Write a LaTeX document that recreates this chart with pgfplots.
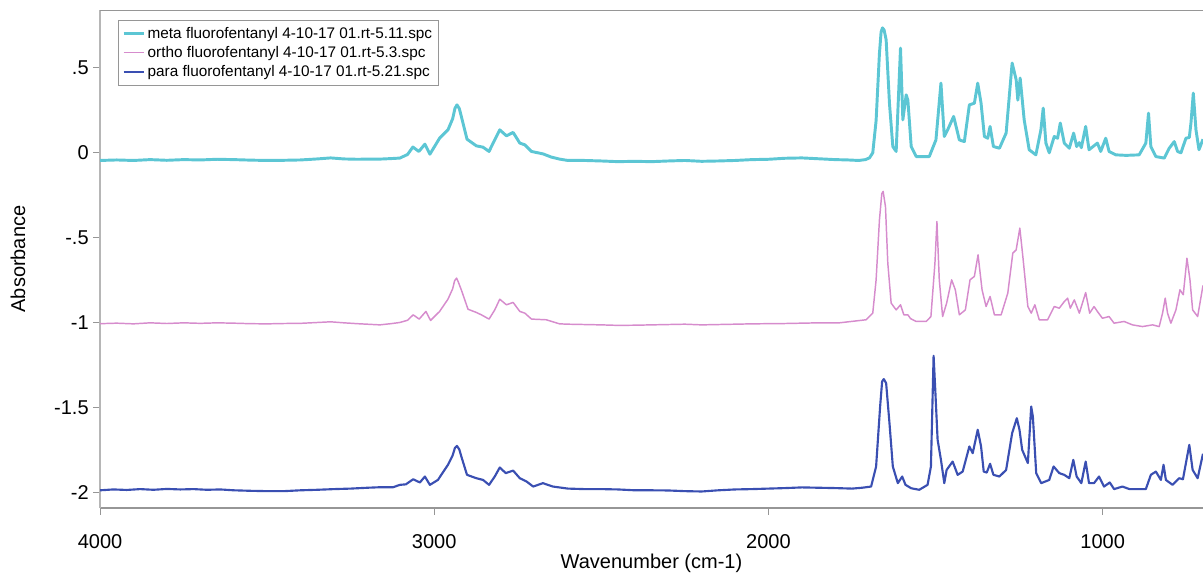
\documentclass[border=0pt]{standalone}
\usepackage{fontspec}
\setmainfont{Liberation Sans}
\usepackage{pgfplots}
\pgfplotsset{compat=1.18}
\usepackage{pgfplotstable}

\definecolor{metacol}{RGB}{92,198,212}
\definecolor{orthocol}{RGB}{214,140,205}
\definecolor{paracol}{RGB}{58,79,178}
\definecolor{framecol}{RGB}{150,150,150}

% wavenumber (cm-1) / absorbance
\pgfplotstableread{
w v
4000 -0.045
3950 -0.042
3900 -0.045
3850 -0.040
3800 -0.044
3750 -0.040
3700 -0.042
3650 -0.038
3600 -0.040
3550 -0.043
3500 -0.045
3450 -0.044
3400 -0.042
3350 -0.036
3310 -0.030
3270 -0.036
3230 -0.038
3200 -0.037
3163 -0.037
3130 -0.034
3103 -0.031
3080 -0.010
3064 0.034
3046 0.008
3028 0.051
3013 -0.008
2984 0.086
2959 0.135
2945 0.200
2938 0.262
2932 0.282
2925 0.260
2919 0.214
2902 0.080
2874 0.041
2854 0.033
2836 0.008
2824 0.057
2804 0.135
2784 0.100
2764 0.120
2744 0.057
2729 0.047
2709 0.008
2690 0.000
2675 -0.006
2650 -0.025
2625 -0.037
2600 -0.045
2550 -0.045
2500 -0.048
2450 -0.052
2400 -0.050
2350 -0.052
2300 -0.048
2250 -0.045
2200 -0.050
2150 -0.048
2100 -0.045
2050 -0.040
2000 -0.038
1950 -0.032
1900 -0.030
1880 -0.032
1850 -0.035
1800 -0.040
1762 -0.042
1730 -0.045
1710 -0.040
1698 -0.030
1688 0.000
1678 0.190
1668 0.586
1663 0.712
1659 0.735
1654 0.722
1648 0.665
1638 0.290
1628 0.037
1618 0.008
1605 0.616
1598 0.194
1588 0.341
1583 0.310
1573 0.037
1558 -0.022
1519 -0.022
1499 0.076
1484 0.410
1474 0.096
1464 0.135
1446 0.214
1429 0.076
1414 0.066
1399 0.282
1384 0.292
1374 0.410
1364 0.292
1354 0.096
1344 0.086
1337 0.155
1327 0.037
1309 0.027
1289 0.116
1271 0.528
1259 0.430
1254 0.310
1247 0.440
1235 0.194
1220 0.018
1200 -0.012
1185 0.135
1178 0.263
1170 0.057
1160 0.000
1145 0.096
1135 0.086
1127 0.175
1115 0.057
1100 0.027
1087 0.116
1078 0.037
1070 0.060
1064 0.030
1051 0.155
1041 0.018
1016 0.057
1006 0.008
991 0.086
981 0.008
961 -0.012
930 -0.015
891 -0.012
871 0.057
863 0.233
856 0.037
841 -0.022
816 -0.031
801 0.027
786 0.066
776 0.008
766 0.000
751 0.086
741 0.090
736 0.175
729 0.351
721 0.135
712 0.018
700 0.080
}\meta

\pgfplotstableread{
w v
4000 -1.005
3950 -1.002
3900 -1.006
3850 -1.000
3800 -1.004
3750 -1.000
3700 -1.003
3650 -1.000
3600 -1.002
3550 -1.005
3500 -1.006
3450 -1.004
3400 -1.003
3350 -0.998
3310 -0.994
3270 -1.000
3230 -1.005
3163 -1.012
3130 -1.005
3103 -0.998
3080 -0.985
3063 -0.953
3045 -0.978
3025 -0.933
3011 -0.986
2984 -0.933
2959 -0.861
2945 -0.800
2939 -0.752
2933 -0.737
2928 -0.760
2919 -0.806
2899 -0.920
2874 -0.939
2859 -0.953
2836 -0.978
2819 -0.924
2804 -0.861
2784 -0.894
2764 -0.880
2744 -0.933
2729 -0.943
2709 -0.978
2665 -0.982
2625 -1.006
2600 -1.008
2550 -1.010
2500 -1.012
2450 -1.015
2400 -1.014
2350 -1.012
2300 -1.010
2250 -1.008
2200 -1.012
2150 -1.010
2100 -1.008
2050 -1.006
2000 -1.005
1950 -1.004
1900 -1.002
1850 -1.000
1788 -1.000
1708 -0.982
1688 -0.943
1678 -0.747
1668 -0.394
1661 -0.240
1657 -0.227
1650 -0.316
1643 -0.649
1633 -0.884
1618 -0.924
1605 -0.894
1595 -0.953
1583 -0.953
1575 -0.975
1558 -0.992
1528 -0.992
1514 -0.963
1502 -0.649
1496 -0.404
1489 -0.747
1479 -0.963
1467 -0.884
1452 -0.747
1441 -0.806
1429 -0.953
1411 -0.924
1397 -0.747
1384 -0.727
1373 -0.600
1361 -0.806
1349 -0.904
1337 -0.845
1324 -0.953
1304 -0.953
1284 -0.825
1269 -0.590
1259 -0.571
1248 -0.443
1239 -0.610
1224 -0.904
1214 -0.943
1203 -0.894
1190 -0.982
1165 -0.982
1145 -0.904
1130 -0.914
1115 -0.875
1105 -0.855
1097 -0.914
1085 -0.865
1070 -0.943
1051 -0.822
1039 -0.943
1026 -0.904
1016 -0.933
1001 -0.973
981 -0.963
966 -1.002
936 -0.992
911 -1.012
881 -1.022
851 -1.012
831 -1.022
821 -0.943
813 -0.855
806 -0.943
796 -1.002
781 -0.924
769 -0.806
759 -0.835
748 -0.620
739 -0.747
731 -0.924
716 -0.963
700 -0.780
}\ortho

\pgfplotstableread{
w v
4000 -1.985
3960 -1.980
3920 -1.983
3880 -1.978
3840 -1.982
3800 -1.977
3760 -1.980
3720 -1.978
3680 -1.982
3640 -1.980
3600 -1.985
3550 -1.988
3500 -1.990
3450 -1.990
3400 -1.985
3350 -1.982
3300 -1.978
3250 -1.975
3200 -1.970
3163 -1.967
3123 -1.967
3103 -1.953
3085 -1.950
3063 -1.920
3043 -1.939
3028 -1.904
3013 -1.953
2989 -1.924
2959 -1.835
2945 -1.780
2938 -1.735
2932 -1.724
2925 -1.745
2919 -1.786
2902 -1.894
2874 -1.914
2854 -1.924
2836 -1.953
2819 -1.904
2804 -1.851
2786 -1.884
2764 -1.869
2744 -1.914
2724 -1.933
2704 -1.963
2675 -1.943
2645 -1.963
2600 -1.975
2550 -1.978
2500 -1.978
2450 -1.980
2400 -1.985
2350 -1.985
2300 -1.986
2250 -1.990
2200 -1.992
2150 -1.985
2100 -1.980
2050 -1.978
2000 -1.975
1950 -1.972
1900 -1.968
1850 -1.970
1800 -1.972
1750 -1.975
1720 -1.970
1693 -1.963
1678 -1.845
1666 -1.492
1660 -1.345
1655 -1.331
1648 -1.355
1638 -1.590
1628 -1.845
1613 -1.943
1600 -1.904
1590 -1.953
1573 -1.973
1549 -1.982
1524 -1.953
1514 -1.845
1506 -1.194
1501 -1.394
1494 -1.688
1484 -1.806
1474 -1.943
1467 -1.865
1449 -1.816
1434 -1.894
1419 -1.875
1399 -1.727
1389 -1.767
1374 -1.629
1364 -1.727
1356 -1.875
1347 -1.881
1337 -1.829
1327 -1.894
1309 -1.904
1289 -1.865
1271 -1.649
1257 -1.561
1249 -1.629
1241 -1.747
1224 -1.825
1214 -1.492
1209 -1.551
1199 -1.884
1184 -1.943
1160 -1.924
1147 -1.845
1130 -1.884
1115 -1.894
1100 -1.914
1088 -1.806
1078 -1.904
1064 -1.943
1051 -1.816
1041 -1.943
1026 -1.943
1011 -1.904
996 -1.963
979 -1.939
966 -1.978
941 -1.963
920 -1.978
871 -1.978
856 -1.894
841 -1.875
826 -1.924
818 -1.835
811 -1.924
791 -1.953
771 -1.914
760 -1.920
741 -1.718
731 -1.865
716 -1.914
700 -1.770
}\para

\begin{document}
\begin{tikzpicture}
\begin{axis}[
    scale only axis,
    width=827pt, height=373.5pt,
    x dir=reverse,
    xmin=700, xmax=4000,
    ymin=-2.09, ymax=0.84,
    axis x line*=bottom,
    axis y line*=left,
    x axis line style={framecol, line width=1.6pt},
    y axis line style={framecol!70, line width=0.8pt},
    tick align=outside,
    major tick length=5pt,
    tick style={framecol, line width=0.6pt},
    xtick={4000,3000,2000,1000},
    xticklabels={4000,3000,2000,1000},
    ytick={0.5,0,-0.5,-1,-1.5,-2},
    yticklabels={.5,0,-.5,-1,-1.5,-2},
    ticklabel style={font=\fontsize{15}{18}\selectfont},
    xticklabel style={yshift=-11pt},
    xlabel={Wavenumber (cm-1)},
    ylabel={Absorbance},
    label style={font=\fontsize{15}{18}\selectfont},
    xlabel style={at={(rel axis cs:0.5,-0.1104)}, anchor=center},
    ylabel style={at={(rel axis cs:-0.0743,0.5)}, anchor=center, rotate=0},
    legend style={at={(rel axis cs:0.016,0.98)}, anchor=north west,
        draw=framecol, line width=0.6pt, font=\fontsize{11.5}{12}\selectfont,
        inner sep=3pt, row sep=0.5pt, fill=white},
    legend cell align=left,
    legend image code/.code={\draw[#1] (0pt,0pt) -- (15pt,0pt);},
]
\addplot[metacol, line width=2.2pt, line join=round] table[x=w, y=v] {\meta};
\addlegendentry{meta fluorofentanyl 4-10-17 01.rt-5.11.spc}
\addplot[orthocol, line width=1.1pt, line join=round] table[x=w, y=v] {\ortho};
\addlegendentry{ortho fluorofentanyl 4-10-17 01.rt-5.3.spc}
\addplot[paracol, line width=1.6pt, line join=round] table[x=w, y=v] {\para};
\addlegendentry{para fluorofentanyl 4-10-17 01.rt-5.21.spc}
\draw[framecol, line width=1.6pt] (rel axis cs:0,1) -- (rel axis cs:1,1);
\end{axis}
\pgfresetboundingbox
\useasboundingbox ([shift={(-75pt,-48.75pt)}]current axis.south west)
    rectangle ([shift={(0pt,7.5pt)}]current axis.north east);
\end{tikzpicture}
\end{document}
